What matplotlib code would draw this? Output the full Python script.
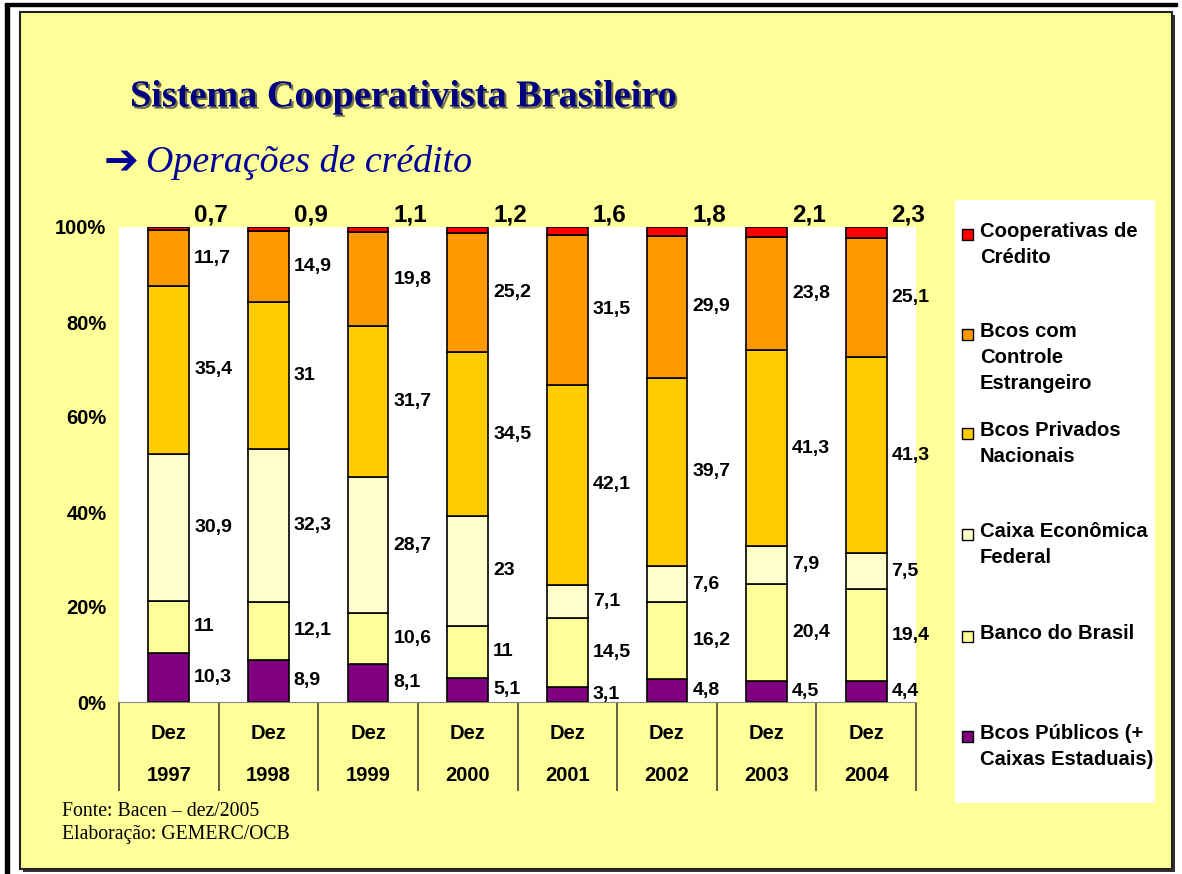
import matplotlib.pyplot as plt
import matplotlib.patheffects as pe
from matplotlib.patches import Rectangle
import numpy as np

anos = ['1997', '1998', '1999', '2000', '2001', '2002', '2003', '2004']

# participacao (%) nas operacoes de credito, de baixo para cima
bcos_publicos = [10.3, 8.9, 8.1, 5.1, 3.1, 4.8, 4.5, 4.4]
banco_brasil = [11, 12.1, 10.6, 11, 14.5, 16.2, 20.4, 19.4]
caixa_federal = [30.9, 32.3, 28.7, 23, 7.1, 7.6, 7.9, 7.5]
bcos_privados = [35.4, 31, 31.7, 34.5, 42.1, 39.7, 41.3, 41.3]
bcos_estrangeiros = [11.7, 14.9, 19.8, 25.2, 31.5, 29.9, 23.8, 25.1]
cooperativas = [0.7, 0.9, 1.1, 1.2, 1.6, 1.8, 2.1, 2.3]

series = [bcos_publicos, banco_brasil, caixa_federal, bcos_privados, bcos_estrangeiros, cooperativas]
nomes = ['Bcos Públicos (+\nCaixas Estaduais)', 'Banco do Brasil', 'Caixa Econômica\nFederal',
         'Bcos Privados\nNacionais', 'Bcos com\nControle\nEstrangeiro', 'Cooperativas de\nCrédito']
cores = ['#800080', '#FFFF99', '#FFFFCC', '#FFCC00', '#FF9900', '#FF0000']

W, H = 1182, 874
fig = plt.figure(figsize=(W / 100, H / 100), dpi=100)
fig.patch.set_facecolor('white')

def fx(px):
    return px / W

def fy(py):
    return 1 - py / H

# moldura do slide
fig.patches.append(Rectangle((fx(5), 0), fx(4), fy(4), transform=fig.transFigure,
                             color='black', zorder=-10))
fig.patches.append(Rectangle((fx(5), fy(6)), fx(1172), 2.5 / H, transform=fig.transFigure,
                             color='black', zorder=-10))
fig.patches.append(Rectangle((fx(23), fy(872)), fx(1152), (872 - 15) / H, transform=fig.transFigure,
                             facecolor='#333333', edgecolor='none', zorder=-10))
fig.patches.append(Rectangle((fx(20), fy(869)), fx(1152), (869 - 12) / H, transform=fig.transFigure,
                             facecolor='#FFFF99', edgecolor='#222222', linewidth=1.5, zorder=-9))

# titulo
fig.text(fx(130), fy(97), 'Sistema Cooperativista Brasileiro', family='Liberation Serif',
         weight='bold', fontsize=27.5, color='#000080', va='center', ha='left',
         path_effects=[pe.withSimplePatchShadow(offset=(1.5, -1.5), shadow_rgbFace='#111111', alpha=0.6)])
fig.text(fx(104), fy(162), '➔', family='DejaVu Sans', weight='bold', fontsize=30,
         color='#000099', va='center', ha='left')
fig.text(fx(146), fy(162), 'Operações de crédito', family='Liberation Serif', style='italic',
         fontsize=27.3, color='#000099', va='center', ha='left')

# grafico
ax = fig.add_axes([fx(119), fy(702), fx(916 - 119), (702 - 227) / H])
ax.set_facecolor('white')
x = np.arange(len(anos))
largura = 0.41
base = np.zeros(len(anos))
for vals, cor in zip(series, cores):
    ax.bar(x, vals, largura, bottom=base, color=cor, edgecolor='black', linewidth=1.2, zorder=2)
    base += np.array(vals)

def fmt(v):
    return f'{v:g}'.replace('.', ',')

base = np.zeros(len(anos))
for vals in series[:-1]:
    for i, v in enumerate(vals):
        ax.annotate(fmt(v), (x[i] + largura / 2, base[i] + v / 2), xytext=(5, 0),
                    textcoords='offset pixels', ha='left', va='center', fontsize=14,
                    weight='bold', family='Liberation Sans', annotation_clip=False)
    base += np.array(vals)
for i, v in enumerate(cooperativas):
    ax.annotate(fmt(v), (x[i] + largura / 2, 100), xytext=(5, 12), textcoords='offset pixels',
                ha='left', va='center', fontsize=17.5, weight='bold', family='Liberation Sans',
                annotation_clip=False)

ax.set_xlim(-0.5, len(anos) - 0.5)
ax.set_ylim(0, 100)
ax.set_yticks([0, 20, 40, 60, 80, 100])
ax.set_yticklabels([f'{t}%' for t in [0, 20, 40, 60, 80, 100]], fontsize=14.5, weight='bold',
                   family='Liberation Sans')
ax.tick_params(axis='y', length=0, pad=9)
ax.set_xticks(x)
ax.set_xticklabels([f'Dez\n{a}' for a in anos], fontsize=14.5, weight='bold', family='Liberation Sans',
                   linespacing=2.55)
ax.set_xticks(np.arange(len(anos) + 1) - 0.5, minor=True)
ax.tick_params(axis='x', which='major', length=0, pad=16)
ax.tick_params(axis='x', which='minor', length=64, width=1.3, color='#555544', direction='out')
for s in ['top', 'right', 'left']:
    ax.spines[s].set_visible(False)
ax.spines['bottom'].set_color('#888888')

# legenda
lax = fig.add_axes([fx(955), fy(803), fx(200), (803 - 200) / H])
lax.set_xlim(955, 1155)
lax.set_ylim(803, 200)
lax.axis('off')
lax.add_patch(Rectangle((955, 200), 200, 603, facecolor='white', edgecolor='none'))
topos = [225, 325, 424, 525, 627, 727]
for nome, cor, topo in zip(nomes[::-1], cores[::-1], topos):
    lax.add_patch(Rectangle((962, topo + 4), 11, 11, facecolor=cor, edgecolor='black', linewidth=1))
    lax.text(980, topo - 3, nome, ha='left', va='top', fontsize=14.6, weight='bold',
             family='Liberation Sans', linespacing=1.47)

# fonte
fig.text(fx(62), fy(812), 'Fonte: Bacen – dez/2005', family='Liberation Serif', fontsize=14.2,
         va='center', ha='left')
fig.text(fx(62), fy(834), 'Elaboração: GEMERC/OCB', family='Liberation Serif', fontsize=14.2,
         va='center', ha='left')

fig.savefig('out.png', dpi=100, facecolor=fig.get_facecolor())
